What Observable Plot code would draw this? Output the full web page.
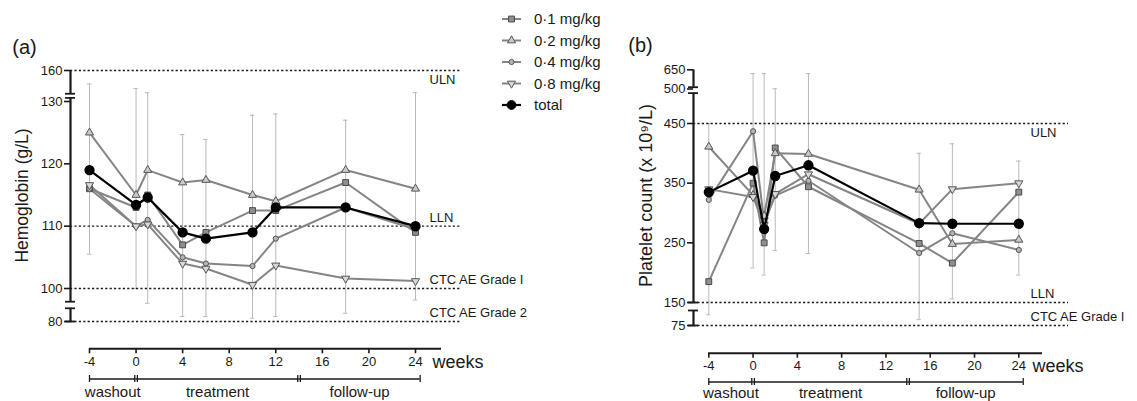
<!DOCTYPE html>
<html><head><meta charset="utf-8">
<script src="https://cdn.jsdelivr.net/npm/d3@7"></script>
<script src="https://cdn.jsdelivr.net/npm/@observablehq/plot@0.6"></script>
<style>
html,body{margin:0;padding:0;background:#fff;}
#wrap{position:relative;width:1137px;height:401px;overflow:hidden;font-family:"Liberation Sans",Arial,sans-serif;color:#1a1a1a;}
#wrap svg{position:absolute;left:0;top:0;}
</style></head><body><div id="wrap"></div>
<script>
// ---------------- DATA ----------------
const seriesNames = ["0·1 mg/kg", "0·2 mg/kg", "0·4 mg/kg", "0·8 mg/kg", "total"];

// (a) Hemoglobin (g/L)
const weeksHb = [-4, 0, 1, 4, 6, 10, 12, 18, 24];
const hb01 = [116, 113, 115, 107, 109, 112.5, 112.5, 117, 109];
const hb02 = [125, 115, 119, 117, 117.4, 115, 114, 119, 116];
const hb04 = [116, 110, 111, 105, 104, 103.6, 108, 113, 109.5];
const hb08 = [116.6, 110, 110.3, 104, 103.2, 100.6, 103.7, 101.6, 101.2];
const hbTotal = [119, 113.4, 114.6, 109, 108, 109, 113, 113, 110];
const hbErrLow = [105.5, 100, 91, 83, 83, 82, 83, 85, 93];
const hbErrHigh = [147, 142.5, 138.5, 124.7, 123.9, 127.8, 128, 127, 138.5];
const hbTicks = [80, 100, 110, 120, 130, 160];
const hbRefValues = [160, 110, 100, 80];
const hbRefLabels = ["ULN", "LLN", "CTC AE Grade I", "CTC AE Grade 2"];

// (b) Platelet count (x 10^9/L)
const weeksPlt = [-4, 0, 1, 2, 5, 15, 18, 24];
const plt01 = [185, 350, 250, 409, 344, 249, 216, 335];
const plt02 = [411, 330, 295, 400, 399, 339, 248, 255];
const plt04 = [322, 437, 285, 329, 354, 233, 266, 238];
const plt08 = [340, 327, 280, 332, 365, 282, 340, 350];
const pltTotal = [335, 371, 273, 362, 380, 283, 282, 282];
const pltErrLow = [110, 208, 196, 237, 232, 94, 156, 196];
const pltErrHigh = [450, 620, 620, 502, 620, 400, 416, 387];
const pltTicks = [75, 150, 250, 350, 450, 500, 650];
const pltRefValues = [450, 150, 75];
const pltRefLabels = ["ULN", "LLN", "CTC AE Grade I"];

// shared
const weekTicks = [-4, 0, 4, 8, 12, 16, 20, 24];
const phaseNames = ["washout", "treatment", "follow-up"];
const phaseStart = [-4, 0, 14];
const phaseEnd = [0, 14, 24.4];

// ---------------- STYLES ----------------
const sqrt3 = Math.sqrt(3);
const triangleDown = {
  draw(ctx, size) {
    const y = -Math.sqrt(size / (sqrt3 * 3));
    ctx.moveTo(0, -y * 2);
    ctx.lineTo(-sqrt3 * y, y);
    ctx.lineTo(sqrt3 * y, y);
    ctx.closePath();
  }
};
const seriesStyles = [
  {symbol: "square", r: 3.3, fill: "#8f8f8f", stroke: "#4a4a4a"},
  {symbol: "triangle", r: 3.0, fill: "#c9c9c9", stroke: "#555"},
  {symbol: "circle", r: 2.6, fill: "#b3b3b3", stroke: "#555"},
  {symbol: triangleDown, r: 3.0, fill: "#d9d9d9", stroke: "#555"},
  {symbol: "circle", r: 4.4, fill: "#000", stroke: "#000"}
];
const LINE_GRAY = "#858585";
const ERR_GRAY = "#b9b9b9";
const INK = "#1a1a1a";

// ---------------- PANEL ----------------
function panel(cfg) {
  const xs = d3.scaleLinear().domain(cfg.xDomain).range(cfg.xRange);
  const ys = d3.scaleLinear().domain(cfg.yDomain).range(cfg.yRange);
  const X = px => xs.invert(px), Y = px => ys.invert(px);
  const pxW = X(cfg.xRange[0] + 1) - cfg.xDomain[0]; // weeks per pixel
  const axX = X(cfg.axisPx);

  const err = cfg.weeks.map((t, i) => ({t, lo: cfg.errLo[i], hi: cfg.errHi[i]}));
  const refs = cfg.refValues.map((v, i) => ({v, label: cfg.refLabels[i]}));
  const phases = phaseNames.map((name, i) => ({name, start: phaseStart[i], end: phaseEnd[i]}));
  const seriesRows = cfg.series.map(s => cfg.weeks.map((t, j) => ({t, v: s[j]})));

  const marks = [];
  // error bars
  marks.push(Plot.ruleX(err, {x: "t", y1: "lo", y2: "hi", stroke: ERR_GRAY, strokeWidth: 1}));
  marks.push(Plot.ruleY(err, {y: "hi", x1: d => d.t - 2.2 * pxW, x2: d => d.t + 2.2 * pxW, stroke: ERR_GRAY, strokeWidth: 1}));
  marks.push(Plot.ruleY(err, {y: "lo", x1: d => d.t - 2.2 * pxW, x2: d => d.t + 2.2 * pxW, stroke: ERR_GRAY, strokeWidth: 1}));
  // reference lines
  marks.push(Plot.ruleY(refs, {y: "v", x1: () => axX, x2: () => X(cfg.refEndPx), stroke: INK, strokeWidth: 1.4, strokeDasharray: "2.2,2.2"}));
  marks.push(Plot.text(refs.filter((d, i) => i === 0), {x: () => X(cfg.refLabelPx), y: "v", text: "label", textAnchor: "start", dy: 9.5, fontSize: 13, fill: INK}));
  marks.push(Plot.text(refs.filter((d, i) => i > 0), {x: () => X(cfg.refLabelPx), y: "v", text: "label", textAnchor: "start", dy: -8.5, fontSize: 13, fill: INK}));
  // dose series
  for (let i = 0; i < 4; i++) {
    marks.push(Plot.line(seriesRows[i], {x: "t", y: "v", stroke: LINE_GRAY, strokeWidth: 2}));
  }
  for (let i = 0; i < 4; i++) {
    const st = seriesStyles[i];
    marks.push(Plot.dot(seriesRows[i], {x: "t", y: "v", symbol: st.symbol, r: st.r, fill: st.fill, stroke: st.stroke, strokeWidth: 1}));
  }
  // total
  marks.push(Plot.line(seriesRows[4], {x: "t", y: "v", stroke: "#000", strokeWidth: 2.2}));
  marks.push(Plot.dot(seriesRows[4], {x: "t", y: "v", symbol: "circle", r: seriesStyles[4].r, fill: "#000", stroke: "#000"}));

  // y axis (broken)
  marks.push(Plot.ruleX(cfg.axisSegs, {x: () => axX, y1: d => d[0], y2: d => d[1], stroke: INK, strokeWidth: 2.2}));
  marks.push(Plot.ruleY(cfg.axisCaps, {y: d => d, x1: () => X(cfg.axisPx - 5), x2: () => X(cfg.axisPx + 5), stroke: INK, strokeWidth: 1.8}));
  marks.push(Plot.axisY({ticks: cfg.yTicks, tickFormat: d => String(d), tickSize: 6, tickPadding: 2, fontSize: 13, label: null, strokeWidth: 1.6}));
  // x axis
  marks.push(Plot.ruleY([0], {y: () => Y(cfg.xAxisPx), x1: () => weekTicks[0], x2: () => X(cfg.xLineEndPx), stroke: INK, strokeWidth: 2}));
  marks.push(Plot.axisX({ticks: weekTicks, tickFormat: d => String(d), tickSize: 5, tickPadding: 3, fontSize: 13, label: null, strokeWidth: 1.6}));
  marks.push(Plot.text(["weeks"], {x: () => X(cfg.weeksPx), y: () => Y(cfg.weeksYPx), textAnchor: "start", fontSize: 18, fill: INK}));
  // phases
  const pY = cfg.phasePx;
  marks.push(Plot.ruleY(phases, {y: () => Y(pY), x1: "start", x2: "end", stroke: INK, strokeWidth: 1.3}));
  marks.push(Plot.ruleX([phaseStart[0], phaseEnd[phaseEnd.length - 1]], {x: d => d, y1: () => Y(pY - 3.5), y2: () => Y(pY + 3.5), stroke: INK, strokeWidth: 1.3}));
  const joins = phaseStart.slice(1).flatMap(b => [b - 1.3 * pxW, b + 1.3 * pxW]);
  marks.push(Plot.ruleX(joins, {x: d => d, y1: () => Y(pY - 3.5), y2: () => Y(pY + 3.5), stroke: INK, strokeWidth: 1.3}));
  marks.push(Plot.text(phases, {x: d => (d.start + d.end) / 2, y: () => Y(cfg.phaseLabelPx), text: "name", fontSize: 15, fill: INK}));
  // titles
  marks.push(Plot.text([cfg.title], {x: () => X(cfg.titleXPx), y: () => Y(cfg.titleYPx), rotate: -90, fontSize: cfg.titleSize, fill: INK}));
  marks.push(Plot.text([cfg.panelLabel], {x: () => X(cfg.panelXPx), y: () => Y(cfg.panelYPx), fontSize: 20, fill: INK}));

  return Plot.plot({
    width: 1137, height: 401,
    marginLeft: cfg.axisPx, marginBottom: 401 - cfg.xAxisPx, marginTop: 10, marginRight: 10,
    x: {type: "linear", domain: cfg.xDomain, range: cfg.xRange},
    y: {type: "linear", domain: cfg.yDomain, range: cfg.yRange},
    style: {background: "transparent", overflow: "visible", fontFamily: "'Liberation Sans', Arial, sans-serif", color: INK},
    marks
  });
}

const wrap = document.getElementById("wrap");

wrap.appendChild(panel({
  weeks: weeksHb, series: [hb01, hb02, hb04, hb08, hbTotal], errLo: hbErrLow, errHi: hbErrHigh,
  xDomain: [-4, 24], xRange: [89, 415],
  yDomain: [80, 100, 130, 160], yRange: [321, 288, 101, 70],
  yTicks: hbTicks, refValues: hbRefValues, refLabels: hbRefLabels,
  axisPx: 70, xAxisPx: 348.3, xLineEndPx: 441, refEndPx: 461, refLabelPx: 429,
  axisSegs: [[80, 88], [92, 133.5], [137.5, 160]], axisCaps: [80, 88, 92, 133.5, 137.5],
  weeksPx: 432, weeksYPx: 362, phasePx: 378.5, phaseLabelPx: 392,
  title: "Hemoglobin (g/L)", titleSize: 17.5, titleXPx: 22, titleYPx: 195,
  panelLabel: "(a)", panelXPx: 24, panelYPx: 47
}));

wrap.appendChild(panel({
  weeks: weeksPlt, series: [plt01, plt02, plt04, plt08, pltTotal], errLo: pltErrLow, errHi: pltErrHigh,
  xDomain: [-4, 24], xRange: [708.3, 1018.3],
  yDomain: [75, 150, 450, 500, 650], yRange: [325, 302, 123, 88.5, 69.3],
  yTicks: pltTicks, refValues: pltRefValues, refLabels: pltRefLabels,
  axisPx: 693, xAxisPx: 352.7, xLineEndPx: 1042, refEndPx: 1068, refLabelPx: 1030,
  axisSegs: [[75, 124], [150, 494], [514, 650]], axisCaps: [75, 124, 150, 494, 514],
  weeksPx: 1032, weeksYPx: 366, phasePx: 381.5, phaseLabelPx: 392.5,
  title: "Platelet count (x 10⁹/L)", titleSize: 18, titleXPx: 646, titleYPx: 195,
  panelLabel: "(b)", panelXPx: 640, panelYPx: 45
}));

// ---------------- LEGEND ----------------
const leg = d3.select(wrap).append("svg").attr("width", 1137).attr("height", 401)
  .style("font-family", "'Liberation Sans', Arial, sans-serif");
const legTop = 19, legStep = 21.5, legX0 = 502, legX1 = 521, legText = 534;
seriesNames.forEach((name, i) => {
  const y = legTop + i * legStep;
  const st = seriesStyles[i];
  const isTotal = i === 4;
  leg.append("line").attr("x1", legX0).attr("x2", legX1).attr("y1", y).attr("y2", y)
    .attr("stroke", isTotal ? "#000" : LINE_GRAY).attr("stroke-width", isTotal ? 2.2 : 2);
  const type = typeof st.symbol === "string"
    ? {square: d3.symbolSquare, triangle: d3.symbolTriangle, circle: d3.symbolCircle}[st.symbol]
    : st.symbol;
  leg.append("path").attr("d", d3.symbol().type(type).size(Math.PI * st.r * st.r)())
    .attr("transform", `translate(${(legX0 + legX1) / 2},${y})`)
    .attr("fill", st.fill).attr("stroke", st.stroke).attr("stroke-width", 1);
  leg.append("text").attr("x", legText).attr("y", y).attr("dy", "0.35em")
    .attr("font-size", 15).attr("fill", INK).text(name);
});
</script></body></html>
